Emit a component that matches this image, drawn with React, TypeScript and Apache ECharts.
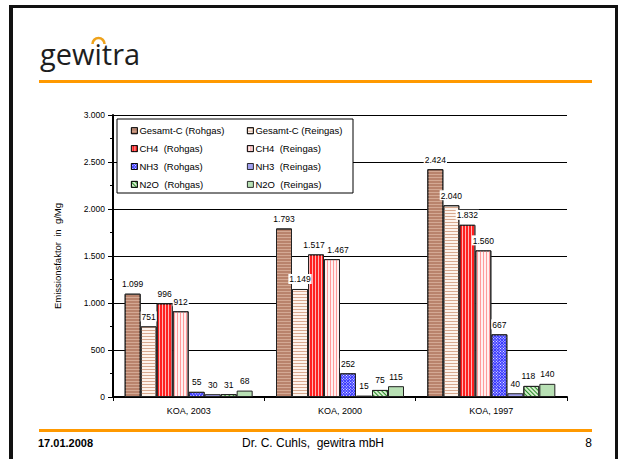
import React, { useEffect, useRef } from "react";
import * as echarts from "echarts";

const categories = ["KOA, 2003", "KOA, 2000", "KOA, 1997"];
const seriesNames = [
  "Gesamt-C (Rohgas)",
  "Gesamt-C (Reingas)",
  "CH4  (Rohgas)",
  "CH4  (Reingas)",
  "NH3  (Rohgas)",
  "NH3  (Reingas)",
  "N2O  (Rohgas)",
  "N2O  (Reingas)",
];
const gesamtCRohgas = [1099, 1793, 2424];
const gesamtCReingas = [751, 1149, 2040];
const ch4Rohgas = [996, 1517, 1832];
const ch4Reingas = [912, 1467, 1560];
const nh3Rohgas = [55, 252, 667];
const nh3Reingas = [30, 15, 40];
const n2oRohgas = [31, 75, 118];
const n2oReingas = [68, 115, 140];
const yMin = 0;
const yMax = 3000;
const yInterval = 500;
const yAxisTitle = "Emissionsfaktor  in  g/Mg";
const footerDate = "17.01.2008";
const footerAuthor = "Dr. C. Cuhls,  gewitra mbH";
const footerPage = "8";
const logoText = "gewitra";

const FONT = '"Liberation Sans", Arial, sans-serif';

const fmt = (v: number) => String(v).replace(/\B(?=(\d{3})+(?!\d))/g, ".");

const hStripe = (color: string) => ({
  symbol: "rect",
  symbolSize: 1,
  dashArrayX: [10, 0],
  dashArrayY: [1, 2],
  color,
});
const vStripe = (color: string) => ({
  symbol: "rect",
  symbolSize: 1,
  dashArrayX: [1, 2],
  dashArrayY: [10, 0],
  color,
});
const dots = (color: string) => ({
  symbol: "rect",
  symbolSize: 1,
  dashArrayX: [1, 1],
  dashArrayY: [1, 1],
  rotation: Math.PI / 4,
  color,
});
const diag = (color: string) => ({
  symbol: "rect",
  symbolSize: 1,
  dashArrayX: [10, 0],
  dashArrayY: [1, 1.5],
  rotation: Math.PI / 4,
  color,
});

const styles = [
  { color: "#b9836c", decal: hStripe("rgba(235,200,180,0.55)") },
  { color: "#fdf3ec", decal: hStripe("#d8a98f") },
  { color: "#ff2020", decal: vStripe("#ffb4b4") },
  { color: "#fff0f0", decal: vStripe("#ff9a9a") },
  { color: "#3434ff", decal: dots("#ffffff") },
  { color: "#a0a0ee", decal: null },
  { color: "#d4eecc", decal: diag("#268a26") },
  { color: "#b8e0b4", decal: null },
];

const seriesData = [
  gesamtCRohgas,
  gesamtCReingas,
  ch4Rohgas,
  ch4Reingas,
  nh3Rohgas,
  nh3Reingas,
  n2oRohgas,
  n2oReingas,
];

// small horizontal nudges of crowded value labels: [seriesIndex, categoryIndex, dx]
const labelNudges: [number, number, number][] = [
  [2, 1, -2],
  [3, 1, 6],
  [6, 2, -3],
];

export default function App() {
  const ref = useRef<HTMLDivElement>(null);
  useEffect(() => {
    document.body.style.margin = "0";
    const chart = echarts.init(ref.current!, null, { renderer: "svg" });
    const legendCommon = {
      orient: "vertical",
      top: 125.7,
      itemWidth: 6,
      itemHeight: 6,
      itemGap: 7.9,
      padding: 0,
      selectedMode: false,
      z: 10,
      icon: "rect",
      itemStyle: { borderColor: "#000", borderWidth: 0.8 },
      textStyle: { fontSize: 9.5, lineHeight: 10, fontFamily: FONT, color: "#000", padding: [0, 0, 0, -3] },
    };
    chart.setOption({
      animation: false,
      backgroundColor: "#fff",
      grid: { left: 113, right: 53, top: 115, bottom: 62, containLabel: false },
      legend: [
        { ...legendCommon, left: 131, data: seriesNames.filter((_, i) => i % 2 === 0) },
        { ...legendCommon, left: 247, data: seriesNames.filter((_, i) => i % 2 === 1) },
      ],
      xAxis: {
        type: "category",
        data: categories,
        axisLine: { lineStyle: { color: "#000", width: 2 } },
        axisTick: { show: true, alignWithLabel: false, length: 4, lineStyle: { color: "#000", width: 1 } },
        axisLabel: { color: "#000", fontSize: 9, fontFamily: FONT, margin: 9 },
      },
      yAxis: {
        type: "value",
        min: yMin,
        max: yMax,
        interval: yInterval,
        name: yAxisTitle,
        nameLocation: "middle",
        nameGap: 51,
        nameTextStyle: { color: "#000", fontSize: 9.5, fontFamily: FONT },
        axisLine: { show: true, lineStyle: { color: "#000", width: 2 } },
        axisTick: { show: true, length: 5, lineStyle: { color: "#000" } },
        minorTick: { show: true, splitNumber: 2, length: 3, lineStyle: { color: "#000" } },
        splitLine: { show: true, lineStyle: { color: "#000", width: 1 } },
        axisLabel: {
          color: "#000",
          fontSize: 8.5,
          fontFamily: FONT,
          margin: 8,
          formatter: (v: number) => fmt(v),
        },
      },
      series: seriesNames.map((name, i) => ({
        name,
        type: "bar",
        data: seriesData[i].map((v, j) => {
          const n = labelNudges.find((d) => d[0] === i && d[1] === j);
          return n ? { value: v, label: { offset: [n[2], 0] } } : v;
        }),
        barWidth: 16,
        barGap: "0%",
        itemStyle: {
          color: styles[i].color,
          decal: styles[i].decal || undefined,
          borderColor: "#222",
          borderWidth: 1,
        },
        label: {
          show: true,
          position: "top",
          distance: 5,
          fontSize: 8.5,
          fontFamily: FONT,
          color: "#000",
          backgroundColor: "#fff",
          padding: [1, 1, 0, 1],
          formatter: (p: any) => fmt(p.value),
        },
      })),
      graphic: [
        { type: "rect", shape: { x: 117, y: 119, width: 236, height: 74 }, style: { fill: "#fff", stroke: "#000", lineWidth: 1 }, z: 5 },
        { type: "rect", shape: { x: 9, y: 5, width: 4, height: 460 }, style: { fill: "#111" }, z: 20 },
        { type: "rect", shape: { x: 9, y: 5, width: 609, height: 3 }, style: { fill: "#111" }, z: 20 },
        { type: "rect", shape: { x: 615, y: 5, width: 3, height: 460 }, style: { fill: "#111" }, z: 20 },
        { type: "rect", shape: { x: 39, y: 80, width: 553, height: 3 }, style: { fill: "#ff9900" }, z: 20 },
        { type: "rect", shape: { x: 39, y: 429, width: 553, height: 3 }, style: { fill: "#ff9900" }, z: 20 },
        {
          type: "text",
          x: 40,
          y: 53,
          z: 20,
          style: { text: logoText, fontSize: 29, fontFamily: '"Open Sans", sans-serif', fill: "#1e1e1e", verticalAlign: "middle" },
        },
        {
          type: "arc",
          z: 21,
          shape: { cx: 98.5, cy: 44, r: 6, startAngle: Math.PI, endAngle: 2 * Math.PI },
          style: { stroke: "#eea21b", lineWidth: 2.5, fill: "none" },
        },
        {
          type: "text",
          x: 38,
          y: 443,
          z: 20,
          style: { text: footerDate, fontSize: 11, fontWeight: "bold", fontFamily: FONT, fill: "#000", verticalAlign: "middle" },
        },
        {
          type: "text",
          x: 313,
          y: 443,
          z: 20,
          style: { text: footerAuthor, fontSize: 12, fontFamily: FONT, fill: "#000", align: "center", verticalAlign: "middle" },
        },
        {
          type: "text",
          x: 592,
          y: 443,
          z: 20,
          style: { text: footerPage, fontSize: 12, fontFamily: FONT, fill: "#000", align: "right", verticalAlign: "middle" },
        },
      ],
    });
    return () => chart.dispose();
  }, []);
  return <div ref={ref} style={{ position: "fixed", left: 0, top: 0, width: 620, height: 459 }} />;
}
